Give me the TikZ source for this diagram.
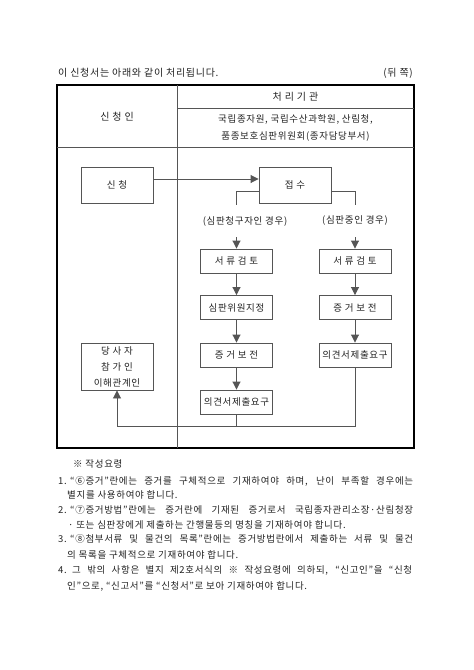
\documentclass[tikz,border=0pt]{standalone}
\usepackage{fontspec}
\setmainfont{Noto Sans CJK KR}[LetterSpace=7]
\usetikzlibrary{arrows.meta}
\definecolor{lgrey}  {RGB}{85,85,85}
\definecolor{tgrey}  {RGB}{35,35,35}
\tikzset{
    txt/.style={inner sep=0pt, text=tgrey, font=\fontsize{10}{12}\selectfont},
    note/.style={inner sep=0pt, text=tgrey, anchor=west, font=\fontsize{9.5}{12}\selectfont},
    stepbox/.style={draw=lgrey, line width=0.9pt, minimum width=72pt, minimum height=24pt,
      inner sep=0pt, text=tgrey, font=\fontsize{9.5}{12}\selectfont},
    link/.style={draw=lgrey, line width=0.9pt},
    flow/.style={link, -{Triangle[width=8pt,length=8pt]}},
    case/.style={txt, fill=white, inner xsep=1pt, inner ysep=11pt, font=\fontsize{9.5}{12}\selectfont}
  }
\begin{document}
\begin{tikzpicture}[x=1pt,y=-1pt]
  \useasboundingbox[fill=white] (0,0) rectangle (474,670);
  %Heading
      \node[txt, anchor=west] (title) at (58,73) {이 신청서는 아래와 같이 처리됩니다.};
      \node[txt, anchor=east] (side) at (413,73) {(뒤 쪽)};
  %Table frame
      \draw[line width=1.3pt] (57,85) rectangle (414,448);
      \draw[link] (177,85) -- (177,448);
      \draw[link] (177,108) -- (414,108);
      \draw[link] (57,147) -- (414,147);
  %Table head
      \node[txt] (agency) at (295.5,97) {처 리 기 관};
      \node[txt] (applicant) at (117,117) {신 청 인};
      \node[txt, align=center, font=\fontsize{9.5}{17}\selectfont] (agencies) at (295.5,127.5)
        {국립종자원, 국립수산과학원, 산림청,\\품종보호심판위원회(종자담당부서)};
  %Steps
      \node[stepbox, minimum height=36pt] (apply) at (117,185) {신 청};
      \node[stepbox, minimum height=36pt] (receive) at (295,185) {접 수};
      \node[stepbox] (reviewa) at (236.5,261) {서 류 검 토};
      \node[stepbox] (reviewb) at (355,261) {서 류 검 토};
      \node[stepbox] (judges) at (236.5,307.5) {심판위원지정};
      \node[stepbox] (keepb) at (355,307.5) {증 거 보 전};
      \node[stepbox] (keepa) at (236.5,355) {증 거 보 전};
      \node[stepbox] (opinionb) at (355,355) {의견서제출요구};
      \node[stepbox] (opiniona) at (236.5,402) {의견서제출요구};
      \node[stepbox, minimum height=47pt, align=center, font=\fontsize{9.5}{16}\selectfont] (party)
        at (117,366.5) {당 사 자\\참 가 인\\이해관계인};
      \coordinate (back) at (117,426);
  %Connectors
      \draw[flow] ([yshift=6pt]apply.east) -- ([yshift=6pt]receive.west);
      \draw[flow] ([yshift=-6pt]receive.west) -| (reviewa.north);
      \draw[flow] ([yshift=-6pt]receive.east) -| (reviewb.north);
      \draw[flow] (reviewa) -- (judges);
      \draw[flow] (judges) -- (keepa);
      \draw[flow] (keepa) -- (opiniona);
      \draw[flow] (reviewb) -- (keepb);
      \draw[flow] (keepb) -- (opinionb);
      \draw[link] (opiniona.south) -- (opiniona.south |- back);
      \draw[flow] (opinionb.south) |- (back) -- (party.south);
  %Cases
      \node[case] (casea) at (245,221) {(심판청구자인 경우)};
      \node[case] (caseb) at (355,221) {(심판중인 경우)};
  %Notes
      \node[note] (guide) at (73,464) {※ 작성요령};
      \node[note] (n1) at (58,481) {1.};
      \node[note] (n1a) at (70,481) {\makebox[343pt][s]{“⑥증거”란에는 증거를 구체적으로 기재하여야 하며, 난이 부족할 경우에는}};
      \node[note] (n1b) at (67,495) {별지를 사용하여야 합니다.};
      \node[note] (n2) at (58,510) {2.};
      \node[note] (n2a) at (70,510) {\makebox[343pt][s]{“⑦증거방법”란에는 증거란에 기재된 증거로서 국립종자관리소장·산림청장}};
      \node[note] (n2b) at (68,525) {· 또는 심판장에게 제출하는 간행물등의 명칭을 기재하여야 합니다.};
      \node[note] (n3) at (58,539) {3.};
      \node[note] (n3a) at (70,539) {\makebox[343pt][s]{“⑧첨부서류 및 물건의 목록”란에는 증거방법란에서 제출하는 서류 및 물건}};
      \node[note] (n3b) at (67,555) {의 목록을 구체적으로 기재하여야 합니다.};
      \node[note] (n4) at (58,570) {4.};
      \node[note] (n4a) at (72,570) {\makebox[340pt][s]{그 밖의 사항은 별지 제2호서식의 ※ 작성요령에 의하되, “신고인”을 “신청}};
      \node[note] (n4b) at (67,586) {인”으로, “신고서”를 “신청서”로 보아 기재하여야 합니다.};
\end{tikzpicture}
\end{document}
